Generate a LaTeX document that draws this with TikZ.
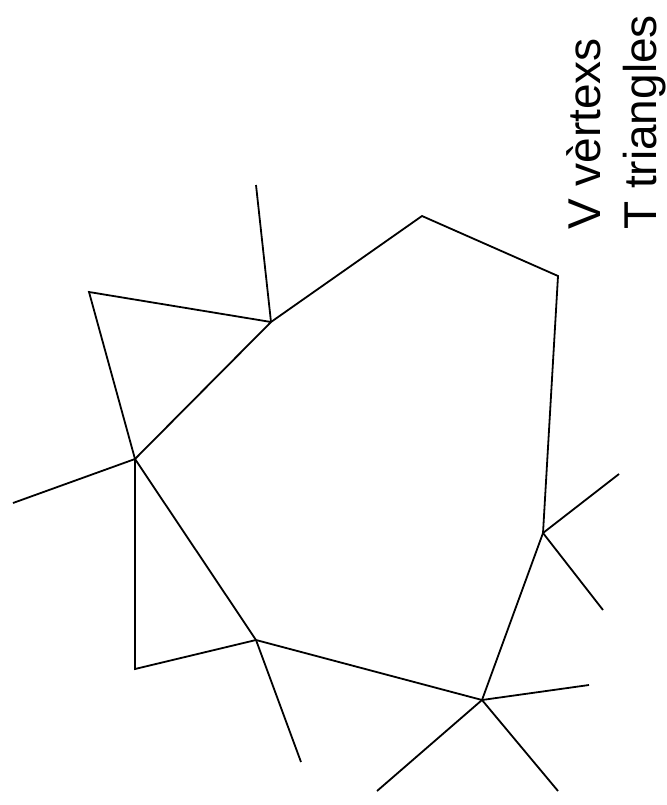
\documentclass[tikz,border=0pt]{standalone}
\usepackage{fontspec}
\setmainfont{Liberation Sans}
\begin{document}
\begin{tikzpicture}[x=1pt,y=-1pt,
  edge/.style={line width=1.8pt,line join=miter},
  lbl/.style={rotate=90,anchor=base west,inner sep=0pt,font=\fontsize{46}{55}\selectfont}]
\useasboundingbox (0,0) rectangle (666,805);
% polygon vertices
\coordinate (A) at (271,322);
\coordinate (B) at (422,216);
\coordinate (C) at (558,276);
\coordinate (D) at (543,533);
\coordinate (E) at (482,700);
\coordinate (F) at (256,640);
\coordinate (G) at (135,459);
% triangle apexes
\coordinate (P1) at (89,292);
\coordinate (P2) at (135,669);
% spoke ends
\coordinate (sA) at (256,185);
\coordinate (sG) at (13,503);
\coordinate (sF) at (301,762);
\coordinate (sD1) at (619,474);
\coordinate (sD2) at (603,610);
\coordinate (sE1) at (589,685);
\coordinate (sE2) at (377,791);
\coordinate (sE3) at (558,791);
\draw[edge] (A) -- (B) -- (C) -- (D) -- (E) -- (F) -- (G) -- cycle;
\draw[edge] (G) -- (P1) -- (A);
\draw[edge] (G) -- (P2) -- (F);
\draw[edge] (A) -- (sA);
\draw[edge] (G) -- (sG);
\draw[edge] (F) -- (sF);
\draw[edge] (D) -- (sD1);
\draw[edge] (D) -- (sD2);
\draw[edge] (E) -- (sE1);
\draw[edge] (E) -- (sE2);
\draw[edge] (E) -- (sE3);
\node[lbl] (t1) at (600,230) {V vèrtexs};
\node[lbl] (t2) at (656,230) {T triangles};
\end{tikzpicture}
\end{document}
